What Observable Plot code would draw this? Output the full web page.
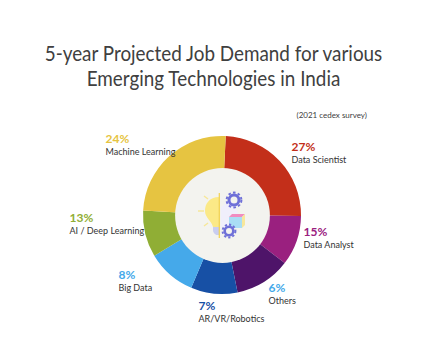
<!DOCTYPE html>
<html><head><meta charset="utf-8">
<script src="https://cdn.jsdelivr.net/npm/d3@7"></script>
<script src="https://cdn.jsdelivr.net/npm/@observablehq/plot@0.6"></script>
<style>
html,body{margin:0;padding:0;background:#fff;width:427px;height:357px;overflow:hidden}
#title{height:100px;box-sizing:border-box;padding-top:41px;text-align:center;font:20.5px/25px Lato,sans-serif;color:#404040;transform:scaleX(.92);white-space:nowrap}
svg{display:block}
</style></head><body>
<div id="title">5-year Projected Job Demand for various<br>Emerging Technologies in India</div>
<div id="chart"></div>
<script>
const categories = ["Data Scientist","Data Analyst","Others","AR/VR/Robotics","Big Data","AI / Deep Learning","Machine Learning"];
const percentLabels = [27,15,6,7,8,13,24];
// Angular sizes of the slices as drawn in the picture (they differ from the printed labels)
const drawnShares = [24.4,10.2,11.4,9.5,10,9.5,24.8];
const colors = ["#C32F1A","#9A207F","#4E1469","#1750A5","#45A9EA","#90AE35","#E6C441"];
const labelColors = ["#C32F1A","#9A207F","#45A9EA","#1750A5","#45A9EA","#90AE35","#E6C441"];
const labelX = [291,303,268,198,118,69,105];
const labelY = [147,232,288,306,275,218,139];

const cx = 222, cy = 215, rOuter = 79, rInner = 47.5, startDeg = 2.7;
const rows = categories.map((name,i)=>({name,pct:percentLabels[i],share:drawnShares[i],color:colors[i],lc:labelColors[i],x:labelX[i],y:labelY[i]}));

function donut(index, scales) {
  const arcs = d3.pie().sort(null).value(d=>d.share)
    .startAngle(startDeg*Math.PI/180).endAngle((startDeg+360)*Math.PI/180)(rows);
  const arc = d3.arc().innerRadius(rOuter*0.5).outerRadius(rOuter);
  const g = d3.create("svg:g").attr("transform",`translate(${scales.x(cx)},${scales.y(cy)})`);
  g.selectAll("path").data(arcs).join("path").attr("d",arc).attr("fill",d=>d.data.color);
  return g.node();
}
function icon(index, scales) {
  const g = d3.create("svg:g").attr("transform",`translate(${scales.x(cx)},${scales.y(cy)})`);
  g.html(`
    <path d="M-2.7,-18 C-13,-18 -17,-11 -17,-4 C-17,3 -10,6 -9,12 L-2.7,13 Z" fill="#FBE987"/>
    <path d="M-9,12 h6.3 v8 h-3 q-3.3,-2 -3.3,-5 Z" fill="#C9CDF0"/>
    <path d="M-24,-4 h6 M-18,-19 l4,3 M-18,11 l4,-3" stroke="#F6E79A" stroke-width="1.5" fill="none"/>
    <path d="M-2.7,-22 V23" stroke="#F2D24F" stroke-width="1.2"/>
    <path d="M-1,-8 L9,-15 L17,-1 L10,1 L8,12 L-1,12 Z" fill="#F0EFFB"/>
    <circle cx="12" cy="-15" r="5" fill="none" stroke="#6F70D8" stroke-width="3"/>
    <circle cx="12" cy="-15" r="7.4" fill="none" stroke="#6F70D8" stroke-width="2" stroke-dasharray="2.6 2.2"/>
    <path d="M7,2 h13 v11 h-13 Z" fill="#A9DDF5"/>
    <path d="M7,2 l3,-3 h13 l-3,3 Z" fill="#F08CC0"/>
    <path d="M20,2 l3,-3 v11 l-3,3 Z" fill="#F7E79B"/>
    <circle cx="7" cy="16" r="4.3" fill="none" stroke="#6F70D8" stroke-width="2.6"/>
    <circle cx="7" cy="16" r="6.4" fill="none" stroke="#6F70D8" stroke-width="2" stroke-dasharray="2.2 2"/>`);
  return g.node();
}

const plot = Plot.plot({
  width:427, height:257, margin:0,
  x:{domain:[0,427],range:[0,427],axis:null},
  y:{domain:[100,357],range:[0,257],axis:null},
  style:{background:"transparent"},
  marks:[
    donut,
    Plot.dot([{x:cx,y:cy}],{x:"x",y:"y",r:rOuter*0.6,fill:"#F3F3EF"}),
    icon,
    Plot.text(["(2021 cedex survey)"],{x:()=>296,y:()=>115,text:d=>d,textAnchor:"start",fontSize:8,fontFamily:"Lato, sans-serif",fill:"#404040"}),
    Plot.text(rows,{x:"x",y:"y",text:d=>d.pct+"%",textAnchor:"start",fontSize:12,fontWeight:"bold",fontFamily:"Lato, sans-serif",fill:d=>d.lc}),
    Plot.text(rows,{x:"x",y:d=>d.y+12.5,text:"name",textAnchor:"start",fontSize:9,fontFamily:"Lato, sans-serif",fill:"#333"})
  ]
});
document.getElementById("chart").append(plot);
</script></body></html>
